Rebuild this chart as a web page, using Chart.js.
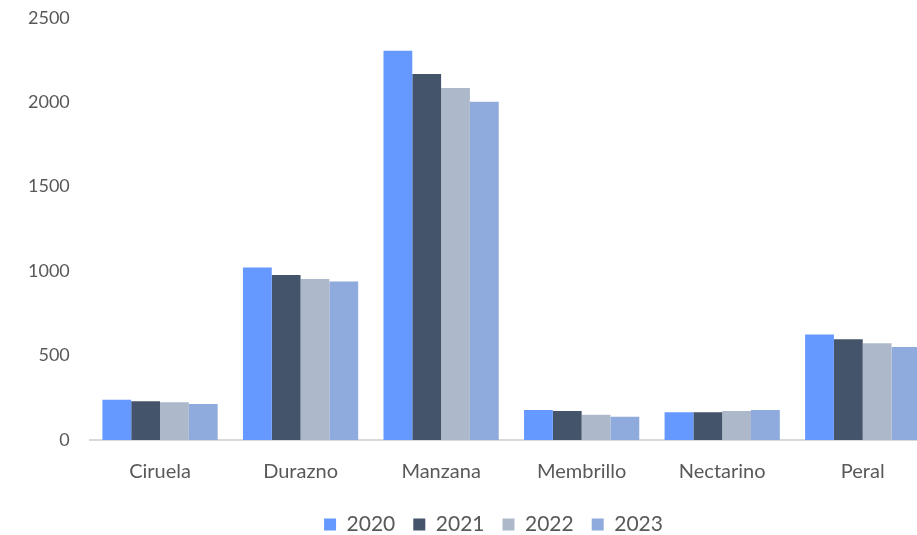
<!DOCTYPE html>
<html>
<head>
<meta charset="utf-8">
<script src="https://cdn.jsdelivr.net/npm/chart.js@4"></script>
<style>
  html, body { margin: 0; padding: 0; overflow: hidden; background: #fff; }
  #wrap { width: 984px; height: 566px; margin-top: -13px; }
</style>
</head>
<body>
<div id="wrap"><canvas id="barChart" width="984" height="566"></canvas></div>
<script>
// categorie e serie
const categorias = ['Ciruela', 'Durazno', 'Manzana', 'Membrillo', 'Nectarino', 'Peral'];
const anios = ['2020', '2021', '2022', '2023'];
const v2020 = [238, 1022, 2305, 177, 165, 625];
const v2021 = [229, 977, 2167, 171, 165, 597];
const v2022 = [223, 953, 2084, 150, 171, 573];
const v2023 = [213, 938, 2003, 138, 177, 551];
const yTicks = [0, 500, 1000, 1500, 2000, 2500];

const colores = ['#6699FF', '#44546A', '#ADB9CA', '#8FAADC'];
const serie = [v2020, v2021, v2022, v2023];

let ctx = document.getElementById('barChart').getContext('2d');

let data = {
  labels: categorias,
  datasets: anios.map((a, i) => ({
    label: a,
    data: serie[i],
    backgroundColor: colores[i],
    borderWidth: 0,
    categoryPercentage: 0.82,
    barPercentage: 1.0
  }))
};

const fuente = { family: 'Lato', size: 20 };

new Chart(ctx, {
  type: 'bar',
  data: data,
  options: {
    responsive: false,
    animation: false,
    layout: { padding: { top: 0, right: 51, left: 8, bottom: 0 } },
    plugins: {
      legend: {
        position: 'bottom',
        labels: {
          boxWidth: 12,
          boxHeight: 12,
          padding: 18,
          color: '#595959',
          font: { family: 'Lato', size: 21 }
        }
      },
      tooltip: { enabled: false }
    },
    scales: {
      x: {
        grid: { display: false, drawTicks: false },
        border: { display: true, color: '#d9d9d9', width: 2 },
        ticks: { color: '#595959', font: fuente, padding: 20 }
      },
      y: {
        min: 0,
        max: 2500,
        afterBuildTicks: (axis) => { axis.ticks = yTicks.map(v => ({ value: v })); },
        grid: { display: false, drawTicks: false },
        border: { display: false },
        ticks: { color: '#595959', font: { family: 'Lato', size: 18 }, padding: 20, callback: (v) => String(v) }
      }
    }
  },
  plugins: [{
    id: 'legendaSposta',
    afterLayout(chart) {
      // sposta la legenda a destra e in alto
      const lg = chart.legend;
      lg.left += 23; lg.right += 23;
      lg.top -= 8; lg.bottom -= 8;
    }
  }]
});
</script>
</body>
</html>
